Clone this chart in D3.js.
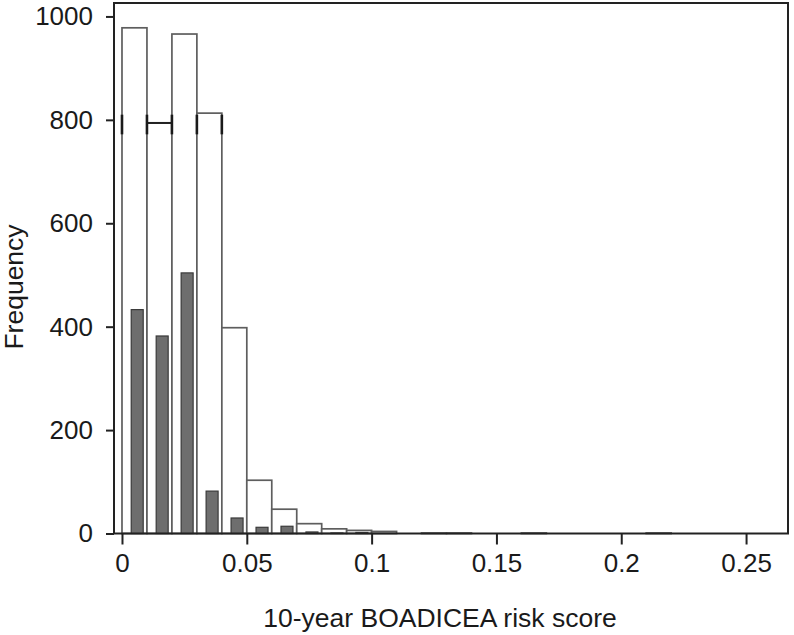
<!DOCTYPE html>
<html>
<head>
<meta charset="utf-8">
<script src="https://cdn.jsdelivr.net/npm/d3@7"></script>
<style>
  html, body { margin: 0; padding: 0; background: #fff; }
  svg { display: block; }
  text { font-family: "Liberation Sans", Arial, Helvetica, sans-serif; fill: #1a1a1a; }
</style>
</head>
<body>
<svg id="chart" width="794" height="635"></svg>
<script>
// ---- data ----
const binWidth = 0.01;
const binStarts = [0, 0.01, 0.02, 0.03, 0.04, 0.05, 0.06, 0.07, 0.08, 0.09, 0.10, 0.11, 0.12, 0.13, 0.14, 0.15, 0.16, 0.17, 0.18, 0.19, 0.20, 0.21, 0.22];
const allFreq   = [978, 794, 966, 813, 398, 103, 47, 19, 9, 6, 4, 0, 1, 1, 0, 0, 1, 0, 0, 0, 0, 1, 0];
const caseFreq  = [433, 382, 504, 82, 30, 12, 14, 3, 1, 2, 0, 0, 0, 0, 0, 0, 0, 0, 0, 0, 0, 0, 0];
const bracketEdges = [0, 0.01, 0.02, 0.03, 0.04];
const bracketRange = [772, 810];
const xTicks = [0, 0.05, 0.1, 0.15, 0.2, 0.25];
const xTickLabels = ["0", "0.05", "0.1", "0.15", "0.2", "0.25"];
const yTicks = [0, 200, 400, 600, 800, 1000];
const yTickLabels = ["0", "200", "400", "600", "800", "1000"];
const xTitle = "10-year BOADICEA risk score";
const yTitle = "Frequency";

// ---- layout ----
const svg = d3.select("#chart");
const pLeft = 114, pRight = 788, pTop = 3, pBottom = 533.5;
const x = d3.scaleLinear().domain([-0.0032, 0.2668]).range([pLeft, pRight]);
const y = d3.scaleLinear().domain([0, 1026]).range([pBottom, pTop]);
const FONT = "Liberation Sans, Arial, sans-serif";

const bins = binStarts.map((s, i) => ({ s, all: allFreq[i], cases: caseFreq[i] }));

// white bars (all)
svg.append("g").selectAll("rect").data(bins).join("rect")
  .attr("x", d => x(d.s))
  .attr("y", d => y(d.all))
  .attr("width", d => x(d.s + binWidth) - x(d.s))
  .attr("height", d => y(0) - y(d.all))
  .attr("fill", "#fff")
  .attr("stroke", "#5e5e5e")
  .attr("stroke-width", 1.7);

// top of second bin drawn darker
svg.append("line")
  .attr("x1", x(binStarts[1])).attr("x2", x(binStarts[1] + binWidth))
  .attr("y1", y(allFreq[1])).attr("y2", y(allFreq[1]))
  .attr("stroke", "#222").attr("stroke-width", 2);

// bracket marks
svg.append("g").selectAll("line").data(bracketEdges).join("line")
  .attr("x1", d => x(d)).attr("x2", d => x(d))
  .attr("y1", y(bracketRange[0])).attr("y2", y(bracketRange[1]))
  .attr("stroke", "#1a1a1a").attr("stroke-width", 2.6);

// dark bars (cases)
svg.append("g").selectAll("rect").data(bins.filter(d => d.cases > 0)).join("rect")
  .attr("x", d => x(d.s + 0.0037))
  .attr("y", d => y(d.cases))
  .attr("width", d => x(d.s + 0.0085) - x(d.s + 0.0037))
  .attr("height", d => y(0) - y(d.cases))
  .attr("fill", "#6e6e6e")
  .attr("stroke", "#3a3a3a")
  .attr("stroke-width", 1.2);

// frame
svg.append("rect")
  .attr("x", pLeft).attr("y", pTop)
  .attr("width", pRight - pLeft).attr("height", pBottom - pTop)
  .attr("fill", "none").attr("stroke", "#222").attr("stroke-width", 2);

// x axis
const xAxis = d3.axisBottom(x).tickValues(xTicks)
  .tickFormat((d, i) => xTickLabels[i]).tickSize(11).tickPadding(9);
const gx = svg.append("g").attr("transform", `translate(0,${pBottom})`).call(xAxis);
gx.select(".domain").remove();
gx.selectAll(".tick line").attr("stroke", "#222").attr("stroke-width", 2);
gx.selectAll(".tick text").attr("font-size", 26).attr("fill", "#1a1a1a")
  .attr("font-family", FONT);

// y axis
const yAxis = d3.axisLeft(y).tickValues(yTicks)
  .tickFormat((d, i) => yTickLabels[i]).tickSize(8).tickPadding(13);
const gy = svg.append("g").attr("transform", `translate(${pLeft},0)`).call(yAxis);
gy.select(".domain").remove();
gy.selectAll(".tick line").attr("stroke", "#222").attr("stroke-width", 2);
gy.selectAll(".tick text").attr("font-size", 26).attr("fill", "#1a1a1a")
  .attr("font-family", FONT);

// titles
svg.append("text")
  .attr("x", 440).attr("y", 627)
  .attr("text-anchor", "middle").attr("font-size", 26.5)
  .attr("font-family", FONT)
  .text(xTitle);
svg.append("text")
  .attr("transform", `translate(23,287) rotate(-90)`)
  .attr("text-anchor", "middle").attr("font-size", 26.5)
  .attr("font-family", FONT)
  .text(yTitle);
</script>
</body>
</html>
